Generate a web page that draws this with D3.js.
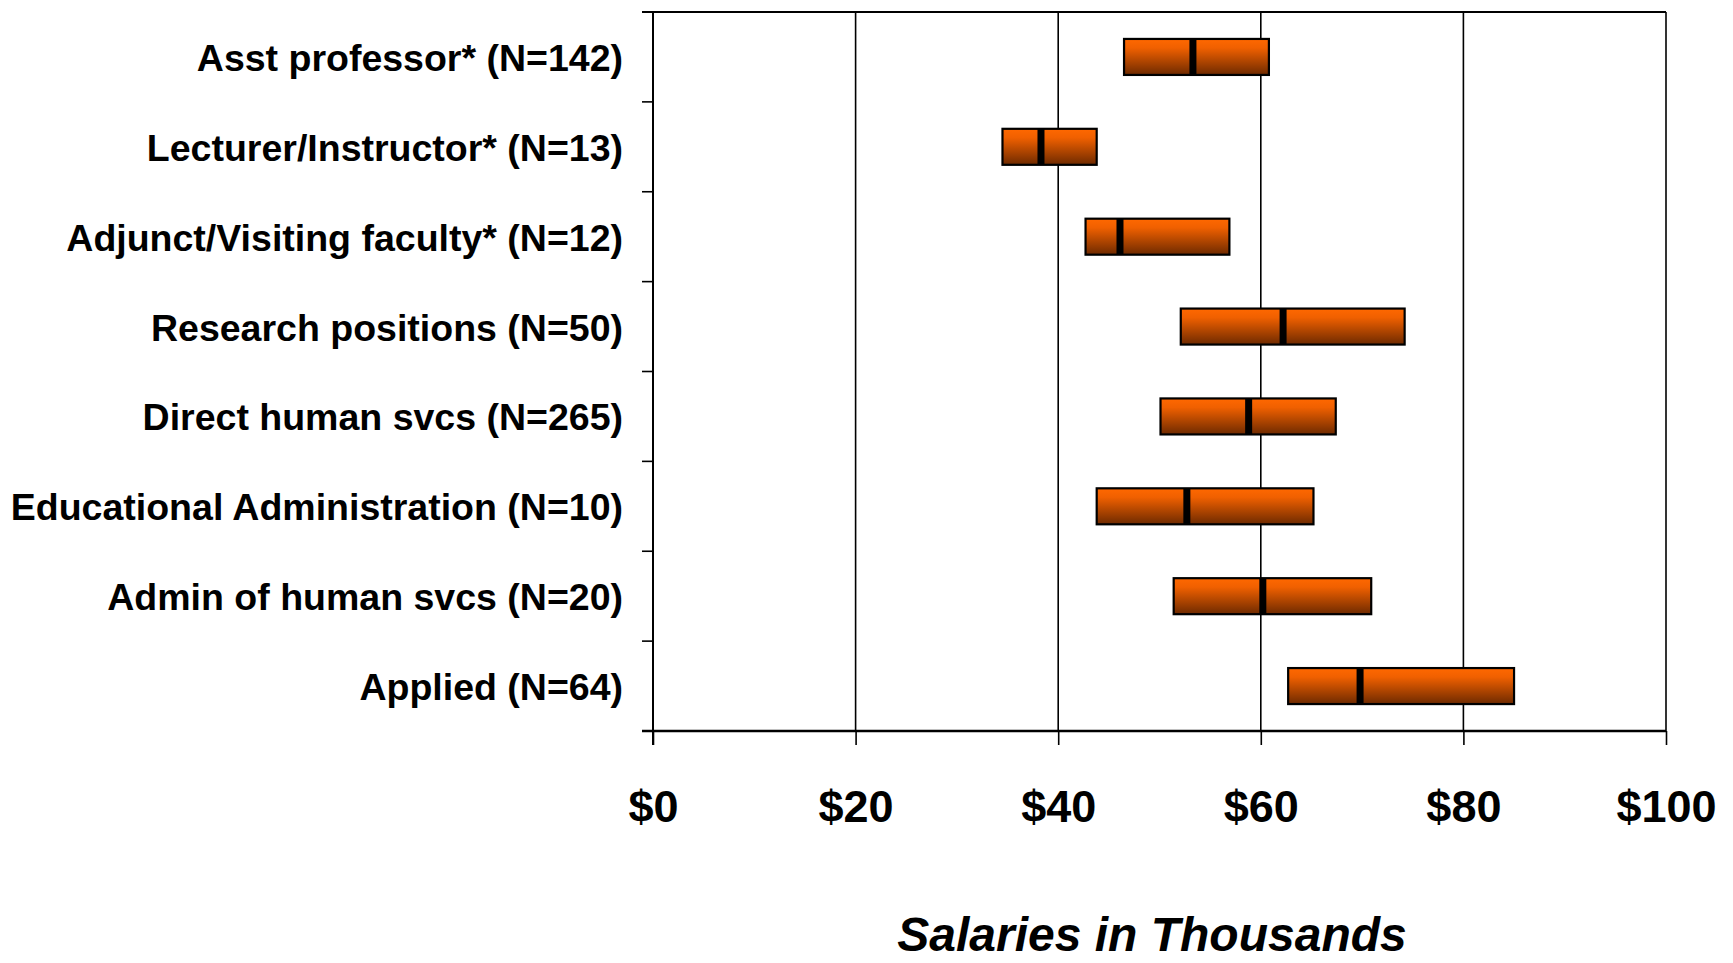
<!DOCTYPE html>
<html>
<head>
<meta charset="utf-8">
<script src="https://cdn.jsdelivr.net/npm/d3@7"></script>
<style>
  body { margin: 0; background: #fff; }
  text { font-family: "Liberation Sans", Arial, sans-serif; font-weight: bold; fill: #000; }
</style>
</head>
<body>
<svg id="chart"></svg>
<script>
// salary ranges, thousands of dollars
const categories = [
  'Asst professor* (N=142)',
  'Lecturer/Instructor* (N=13)',
  'Adjunct/Visiting faculty* (N=12)',
  'Research positions (N=50)',
  'Direct human svcs (N=265)',
  'Educational Administration (N=10)',
  'Admin of human svcs (N=20)',
  'Applied (N=64)'
]
const lows    = [46.5, 34.5, 42.7, 52.1, 50.1, 43.8, 51.4, 62.7]
const highs   = [60.8, 43.8, 56.9, 74.2, 67.4, 65.2, 70.9, 85.0]
const medians = [53.3, 38.3, 46.1, 62.2, 58.8, 52.7, 60.2, 69.8]
const xTicks = [0, 20, 40, 60, 80, 100]

const width = 1733
const height = 963
const margin = { top: 12, right: 67, bottom: 232, left: 653 }

const svg = d3.select('#chart')
  .attr('width', width)
  .attr('height', height)

const defs = svg.append('defs')
const grad = defs.append('linearGradient')
  .attr('id', 'barFill')
  .attr('x1', 0).attr('y1', 0).attr('x2', 0).attr('y2', 1)
grad.append('stop').attr('offset', '0%').attr('stop-color', '#ff6800')
grad.append('stop').attr('offset', '25%').attr('stop-color', '#f06000')
grad.append('stop').attr('offset', '100%').attr('stop-color', '#6e2a00')

const x = d3.scaleLinear()
  .domain([0, 100])
  .range([margin.left, width - margin.right])

const y = d3.scaleBand()
  .domain(categories)
  .range([margin.top, height - margin.bottom])
  .padding(0)

const bottom = height - margin.bottom

// vertical grid lines
svg.append('g').attr('class', 'grid')
  .selectAll('line')
  .data(xTicks.filter(d => d > 0))
  .join('line')
  .attr('x1', d => x(d))
  .attr('x2', d => x(d))
  .attr('y1', margin.top)
  .attr('y2', bottom)
  .attr('stroke', '#000')
  .attr('stroke-width', 1.6)

// top frame line
svg.append('line')
  .attr('x1', margin.left - 11)
  .attr('x2', x(100))
  .attr('y1', margin.top)
  .attr('y2', margin.top)
  .attr('stroke', '#000')
  .attr('stroke-width', 2)

// x axis
const xAxis = svg.append('g')
  .attr('transform', 'translate(0,' + bottom + ')')
  .call(d3.axisBottom(x)
    .tickValues(xTicks)
    .tickSize(14)
    .tickPadding(45)
    .tickFormat(d => '$' + d))
xAxis.select('.domain').remove()
xAxis.selectAll('.tick line').attr('stroke', '#000').attr('stroke-width', 1.6)
xAxis.selectAll('.tick text')
  .attr('font-size', 45)
  .attr('font-family', '"Liberation Sans", Arial, sans-serif')
  .attr('font-weight', 'bold')
  .attr('fill', '#000')

svg.append('line')
  .attr('x1', margin.left - 11)
  .attr('x2', x(100))
  .attr('y1', bottom)
  .attr('y2', bottom)
  .attr('stroke', '#000')
  .attr('stroke-width', 2.6)

// y axis: labels at band centres, ticks at band edges
const yAxis = svg.append('g')
  .attr('transform', 'translate(' + margin.left + ',2)')
  .call(d3.axisLeft(y).tickSize(0).tickPadding(30))
yAxis.select('.domain').remove()
yAxis.selectAll('.tick text')
  .attr('font-size', 37.5)
  .attr('font-family', '"Liberation Sans", Arial, sans-serif')
  .attr('font-weight', 'bold')
  .attr('fill', '#000')

svg.append('line')
  .attr('x1', margin.left)
  .attr('x2', margin.left)
  .attr('y1', margin.top)
  .attr('y2', bottom + 14)
  .attr('stroke', '#000')
  .attr('stroke-width', 2)

svg.append('g').attr('class', 'y-ticks')
  .selectAll('line')
  .data(categories.slice(1))
  .join('line')
  .attr('x1', margin.left - 11)
  .attr('x2', margin.left)
  .attr('y1', d => y(d))
  .attr('y2', d => y(d))
  .attr('stroke', '#000')
  .attr('stroke-width', 1.6)

// range bars
const barH = 36
const bars = svg.append('g').attr('class', 'bars')
  .selectAll('g')
  .data(categories.map((c, i) => ({ name: c, lo: lows[i], hi: highs[i], med: medians[i] })))
  .join('g')

bars.append('rect')
  .attr('x', d => x(d.lo))
  .attr('y', d => y(d.name) + y.bandwidth() / 2 - barH / 2)
  .attr('width', d => x(d.hi) - x(d.lo))
  .attr('height', barH)
  .attr('fill', 'url(#barFill)')
  .attr('stroke', '#000')
  .attr('stroke-width', 2.2)

bars.append('rect')
  .attr('x', d => x(d.med) - 3.5)
  .attr('y', d => y(d.name) + y.bandwidth() / 2 - barH / 2)
  .attr('width', 7)
  .attr('height', barH)
  .attr('fill', '#000')

// axis title
svg.append('text')
  .attr('x', 1152)
  .attr('y', 951)
  .attr('text-anchor', 'middle')
  .attr('font-size', 48)
  .attr('font-style', 'italic')
  .text('Salaries in Thousands')
</script>
</body>
</html>
